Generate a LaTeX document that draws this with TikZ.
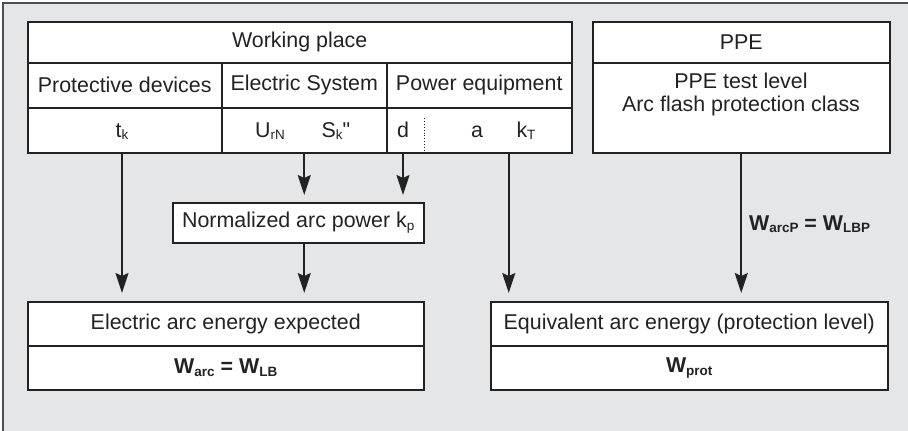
\documentclass[tikz,border=0pt]{standalone}
\usepackage{fontspec}
\setmainfont{Liberation Sans}[Ligatures=TeXOff]
\usetikzlibrary{positioning, calc, arrows.meta}
\definecolor{bggray}{HTML}{E5E6E8}
\definecolor{ink}{HTML}{222222}
\newcommand{\lowtxt}[1]{\raisebox{-0.25ex}{\fontsize{13.5}{13.5}\selectfont #1}}

\begin{document}
\begin{tikzpicture}[
    x=1pt, y=-1pt,
    every node/.style={font=\fontsize{21.4}{23}\selectfont, text=ink},
    cell/.style={draw=ink, fill=white, line width=1.5pt, anchor=north west, inner sep=0pt},
    txt/.style={inner sep=1pt, anchor=base},
    arr/.style={draw=ink, line width=1.6pt, -{Stealth[length=20pt, width=13pt, inset=3pt]}, shorten >=8pt}
  ]
  \useasboundingbox (0,0) rectangle (908,431);
  \fill[bggray] (3,3) rectangle (908,431);
  \draw[ink!80, line width=1.5pt] (3,431) -- (3,3) -- (908,3);

  % working place table
  \node[cell, minimum width=544, minimum height=41] (wp) at (27,21) {Working place};
  \node[cell, minimum width=194, minimum height=45] (pd) at (27,62) {Protective devices};
  \node[cell, minimum width=165, minimum height=45] (es) at (221,62) {Electric System};
  \node[cell, minimum width=185, minimum height=45] (pq) at (386,62) {Power equipment};
  \node[cell, minimum width=194, minimum height=45] (tkc) at (27,107) {};
  \node[cell, minimum width=165, minimum height=45] (usc) at (221,107) {};
  \node[cell, minimum width=185, minimum height=45] (pvc) at (386,107) {};
  \node[txt] (tk) at (122,137) {t\lowtxt{k}};
  \node[txt] (u) at (270,137) {U\lowtxt{rN}};
  \node[txt] (s) at (336,137) {S\lowtxt{k}"};
  \node[txt] (d) at (403,137) {d};
  \node[txt] (a) at (477,137) {a};
  \node[txt] (kt) at (526,137) {k\lowtxt{T}};
  \draw[ink, dotted, line width=0.9pt] (424,118) -- (424,152);

  % PPE table
  \node[cell, minimum width=297, minimum height=41] (ppe) at (592,21) {PPE};
  \node[cell, minimum width=297, minimum height=90] (ppeb) at (592,62) {};
  \node[align=center, inner sep=0pt] (ppetxt) at (741,94) {PPE test level\\Arc flash protection class};

  \node[cell, minimum width=251, minimum height=40] (norm) at (172,202) {Normalized arc power k\lowtxt{p}};

  % results
  \node[cell, minimum width=396, minimum height=44] (arc) at (27,301) {Electric arc energy expected};
  \node[cell, minimum width=396, minimum height=44] (arcw) at (27,345) {\textbf{W\lowtxt{arc} = W\lowtxt{LB}}};
  \node[cell, minimum width=397, minimum height=44] (eq) at (490,301) {Equivalent arc energy (protection level)};
  \node[cell, minimum width=397, minimum height=44] (eqw) at (490,345) {\textbf{W\lowtxt{prot}}};

  \draw[arr] (tk |- tkc.south) -- (tk |- arc.north);
  \draw[arr, shorten >=7pt] (usc.south) -- (usc.south |- norm.north);
  \draw[arr, shorten >=7pt] (d |- pvc.south) -- (d |- norm.north);
  \draw[arr] (usc.south |- norm.south) -- (usc.south |- arc.north);
  \draw[arr] ([xshift=29.5pt]pvc.south) -- ([xshift=29.5pt]pvc.south |- eq.north);
  \draw[arr] (ppeb.south) -- (ppeb.south |- eq.north)
    node[pos=0.5, yshift=3pt, anchor=west, xshift=6pt, inner sep=1pt] (wlbp) {\textbf{W\lowtxt{arcP} = W\lowtxt{LBP}}};
\end{tikzpicture}
\end{document}
